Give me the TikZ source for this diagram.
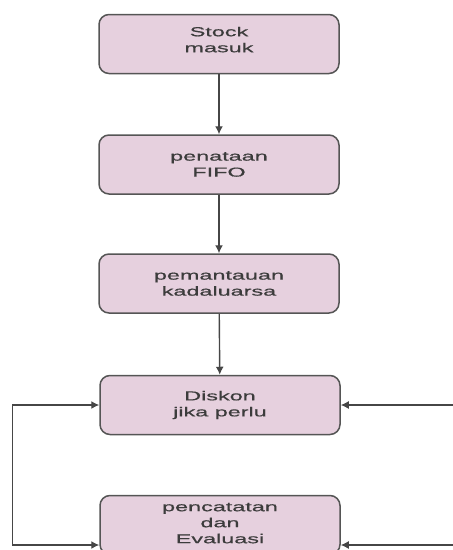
\documentclass[tikz,border=0pt]{standalone}
\usepackage{fontspec}
\newfontfamily\boxfont[FakeStretch=1.8,FakeBold=0.6]{Liberation Sans}
\usetikzlibrary{arrows.meta}
\definecolor{boxfill}{RGB}{230,208,222}
\definecolor{boxline}{RGB}{85,85,85}
\definecolor{txt}{RGB}{60,60,60}
\definecolor{conn}{RGB}{70,70,70}
\tikzset{
  stepbox/.style={draw=boxline, line width=1.5pt, fill=boxfill, rounded corners=10pt,
    minimum width=240pt, minimum height=59pt, align=center, text=txt,
    font=\boxfont\fontsize{13pt}{16pt}\selectfont, inner sep=0pt},
  arr/.style={draw=conn, line width=1.4pt, -{Latex[length=8pt,width=8pt]}},
  arr2/.style={draw=conn, line width=1.4pt, {Latex[length=8pt,width=8pt]}-{Latex[length=8pt,width=8pt]}}
}
\begin{document}
\begin{tikzpicture}[x=1pt,y=-1pt]
\useasboundingbox (0,0) rectangle (453,550);
\node[stepbox] (a) at (219,44) {Stock\\masuk\rule[-9pt]{0pt}{0pt}};
\node[stepbox] (b) at (219,164.5) {penataan\\FIFO};
\node[stepbox] (c) at (219,283.5) {pemantauan\\kadaluarsa};
\node[stepbox] (d) at (220,405) {Diskon\\jika perlu};
\node[stepbox] (e) at (220,525) {pencatatan\\dan\\Evaluasi\rule[-4pt]{0pt}{0pt}};
\coordinate (r1) at (455,405);
\coordinate (r2) at (455,545);
\draw[arr] (a) -- (b);
\draw[arr] (b) -- (c);
\draw[arr] (c) -- (d);
\draw[arr2] (d.west) -- ++(-87,0) |- ([yshift=-20pt]e.west);
\draw[arr] (r1) -- (d.east);
\draw[arr] (r2) -- ([yshift=-20pt]e.east);
\end{tikzpicture}
\end{document}
